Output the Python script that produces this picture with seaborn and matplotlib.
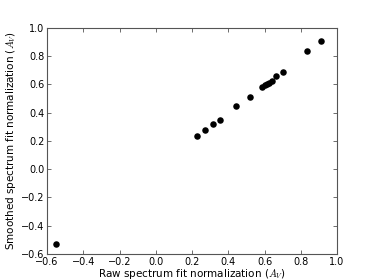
import matplotlib
matplotlib.use('Agg')
import matplotlib.pyplot as plt
import seaborn as sns
import pandas as pd

# values
raw_norm = [-0.55, 0.23, 0.27, 0.318, 0.353, 0.445, 0.52, 0.588, 0.603, 0.614,
            0.627, 0.641, 0.662, 0.70, 0.834, 0.91]
smooth_norm = [-0.53, 0.235, 0.275, 0.318, 0.352, 0.447, 0.51, 0.585, 0.597, 0.606,
               0.614, 0.628, 0.66, 0.69, 0.835, 0.905]

df = pd.DataFrame({'raw': raw_norm, 'smooth': smooth_norm})

sns.set_style('white')
plt.rcParams['font.family'] = ['DejaVu Sans']
plt.rcParams['mathtext.fontset'] = 'cm'
plt.rcParams['text.color'] = 'black'
plt.rcParams['axes.labelcolor'] = 'black'
plt.rcParams['xtick.color'] = 'black'
plt.rcParams['ytick.color'] = 'black'

fig = plt.figure(figsize=(3.74, 2.8), dpi=100)
ax = fig.add_axes([0.126, 0.093, 0.775, 0.807])

sns.scatterplot(data=df, x='raw', y='smooth', color='black', s=22,
                edgecolor='black', linewidth=0, ax=ax)

ax.set_xlim(-0.6, 1.0)
ax.set_ylim(-0.6, 1.0)
ax.set_xticks([-0.6, -0.4, -0.2, 0.0, 0.2, 0.4, 0.6, 0.8, 1.0])
ax.set_yticks([-0.6, -0.4, -0.2, 0.0, 0.2, 0.4, 0.6, 0.8, 1.0])
ax.tick_params(direction='in', length=3, width=0.6, labelsize=7,
               top=True, right=True, bottom=True, left=True, pad=2, color='#555555')
for sp in ax.spines.values():
    sp.set_color('#555555')
    sp.set_linewidth(0.8)

ax.set_xlabel('Raw spectrum fit normalization ($A_V$)', fontsize=7.5, labelpad=0.5)
ax.set_ylabel('Smoothed spectrum fit normalization ($A_V$)', fontsize=7.5, labelpad=2)

fig.savefig('out.png', dpi=100)
